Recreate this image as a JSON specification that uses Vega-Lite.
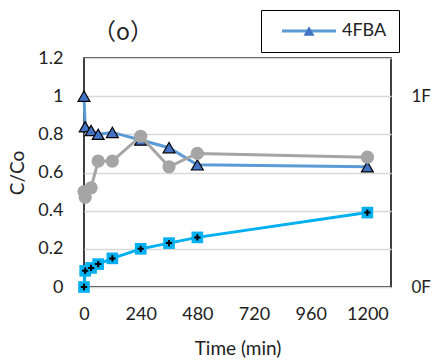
{
  "$schema": "https://vega.github.io/schema/vega-lite/v6.json",
  "width": 307,
  "height": 229,
  "autosize": {"type": "none"},
  "padding": {"left": 84, "top": 58, "right": 41, "bottom": 76},
  "background": "white",
  "config": {
    "view": {"stroke": "black", "strokeWidth": 1.5},
    "font": "Lato",
    "axis": {"labelFont": "Lato", "titleFont": "Lato", "labelColor": "#222", "titleColor": "#222", "labelFontSize": 18, "titleFontSize": 19, "titleFontWeight": "normal", "labelOverlap": false}
  },
  "title": {"text": "（o）", "anchor": "start", "frame": "group", "dx": 9, "offset": -35, "font": "Noto Sans CJK JP", "fontSize": 23, "fontWeight": "normal", "color": "#222"},
  "datasets": {
    "fba": [
      {"time": 0, "cc": 1.0, "compound": "4FBA", "legendName": "4FBA"},
      {"time": 5, "cc": 0.84, "compound": "4FBA", "legendName": "4FBA"},
      {"time": 30, "cc": 0.82, "compound": "4FBA", "legendName": "4FBA"},
      {"time": 60, "cc": 0.80, "compound": "4FBA", "legendName": "4FBA"},
      {"time": 120, "cc": 0.81, "compound": "4FBA", "legendName": "4FBA"},
      {"time": 240, "cc": 0.77, "compound": "4FBA", "legendName": "4FBA"},
      {"time": 360, "cc": 0.73, "compound": "4FBA", "legendName": "4FBA"},
      {"time": 480, "cc": 0.64, "compound": "4FBA", "legendName": "4FBA"},
      {"time": 1200, "cc": 0.63, "compound": "4FBA", "legendName": "4FBA"}
    ],
    "gray": [
      {"time": 0, "cc": 0.50},
      {"time": 5, "cc": 0.47},
      {"time": 30, "cc": 0.52},
      {"time": 60, "cc": 0.66},
      {"time": 120, "cc": 0.66},
      {"time": 240, "cc": 0.79},
      {"time": 360, "cc": 0.63},
      {"time": 480, "cc": 0.70},
      {"time": 1200, "cc": 0.68}
    ],
    "cyan": [
      {"time": 0, "cc": 0.0},
      {"time": 5, "cc": 0.085},
      {"time": 30, "cc": 0.10},
      {"time": 60, "cc": 0.12},
      {"time": 120, "cc": 0.15},
      {"time": 240, "cc": 0.20},
      {"time": 360, "cc": 0.23},
      {"time": 480, "cc": 0.26},
      {"time": 1200, "cc": 0.39}
    ]
  },
  "resolve": {"axis": {"y": "independent"}},
  "layer": [
    {
      "layer": [
        {
          "data": {"name": "fba"},
          "mark": {"type": "line", "strokeWidth": 3},
          "encoding": {
            "x": {"field": "time", "type": "quantitative", "scale": {"domain": [0, 1300], "nice": false},
              "axis": {"values": [0, 240, 480, 720, 960, 1200], "format": "d", "title": "Time (min)", "grid": false, "ticks": false, "domain": false, "labelPadding": 18, "titlePadding": 16, "labelFlush": false}},
            "y": {"field": "cc", "type": "quantitative", "scale": {"domain": [0, 1.2], "nice": false},
              "axis": {"tickCount": 6, "format": "~g", "title": "C/Co", "grid": true, "gridColor": "#D9D9D9", "gridWidth": 1.5, "ticks": false, "domain": false, "labelPadding": 21, "titlePadding": 10, "labelOverlap": false}},
            "color": {"field": "compound", "type": "nominal", "scale": {"range": ["#5B9BD5"]},
              "legend": {"title": null, "orient": "none", "legendX": 177, "legendY": -48, "padding": 12, "symbolOffset": 27, "symbolType": "M-4.5,0H4.5", "symbolSize": 144, "symbolStrokeWidth": 3, "symbolFillColor": "transparent", "labelFontSize": 18, "labelFont": "Lato", "labelColor": "#222", "labelOffset": 24, "strokeColor": "black"}}
          }
        },
        {
          "data": {"name": "fba"},
          "mark": {"type": "point", "filled": true, "fill": "#4472C4", "stroke": "black", "strokeWidth": 1.2, "size": 140, "opacity": 1},
          "encoding": {
            "x": {"field": "time", "type": "quantitative"},
            "y": {"field": "cc", "type": "quantitative"},
            "shape": {"field": "legendName", "type": "nominal", "scale": {"range": ["triangle-up"]},
              "legend": {"title": null, "orient": "none", "legendX": 177, "legendY": -48, "padding": 12, "symbolOffset": 27, "symbolSize": 121, "symbolFillColor": "#4472C4", "symbolStrokeColor": "black", "symbolStrokeWidth": 1.2, "symbolOpacity": 1, "labelFontSize": 18, "labelFont": "Lato", "labelOpacity": 0, "labelOffset": 4}}
          }
        },
        {
          "data": {"name": "gray"},
          "mark": {"type": "line", "color": "#A5A5A5", "strokeWidth": 3},
          "encoding": {
            "x": {"field": "time", "type": "quantitative"},
            "y": {"field": "cc", "type": "quantitative"}
          }
        },
        {
          "data": {"name": "gray"},
          "mark": {"type": "circle", "color": "#A5A5A5", "size": 175, "opacity": 1},
          "encoding": {
            "x": {"field": "time", "type": "quantitative"},
            "y": {"field": "cc", "type": "quantitative"}
          }
        },
        {
          "data": {"name": "cyan"},
          "mark": {"type": "line", "color": "#00B0F0", "strokeWidth": 3},
          "encoding": {
            "x": {"field": "time", "type": "quantitative"},
            "y": {"field": "cc", "type": "quantitative"}
          }
        },
        {
          "data": {"name": "cyan"},
          "mark": {"type": "square", "color": "#00B0F0", "size": 135, "opacity": 1},
          "encoding": {
            "x": {"field": "time", "type": "quantitative"},
            "y": {"field": "cc", "type": "quantitative"}
          }
        }
      ]
    },
    {
      "data": {"name": "cyan"},
      "mark": {"type": "point", "shape": "M-0.5,0H0.5M0,-0.5V0.5", "filled": false, "stroke": "black", "strokeWidth": 2, "size": 160, "opacity": 1},
      "encoding": {
        "x": {"field": "time", "type": "quantitative"},
        "y": {"field": "cc", "type": "quantitative",
          "axis": {"orient": "right", "values": [0, 1], "labelExpr": "datum.value + 'F'", "title": null, "grid": false, "ticks": false, "domain": false, "labelPadding": 20, "labelFontSize": 17}}
      }
    }
  ]
}
